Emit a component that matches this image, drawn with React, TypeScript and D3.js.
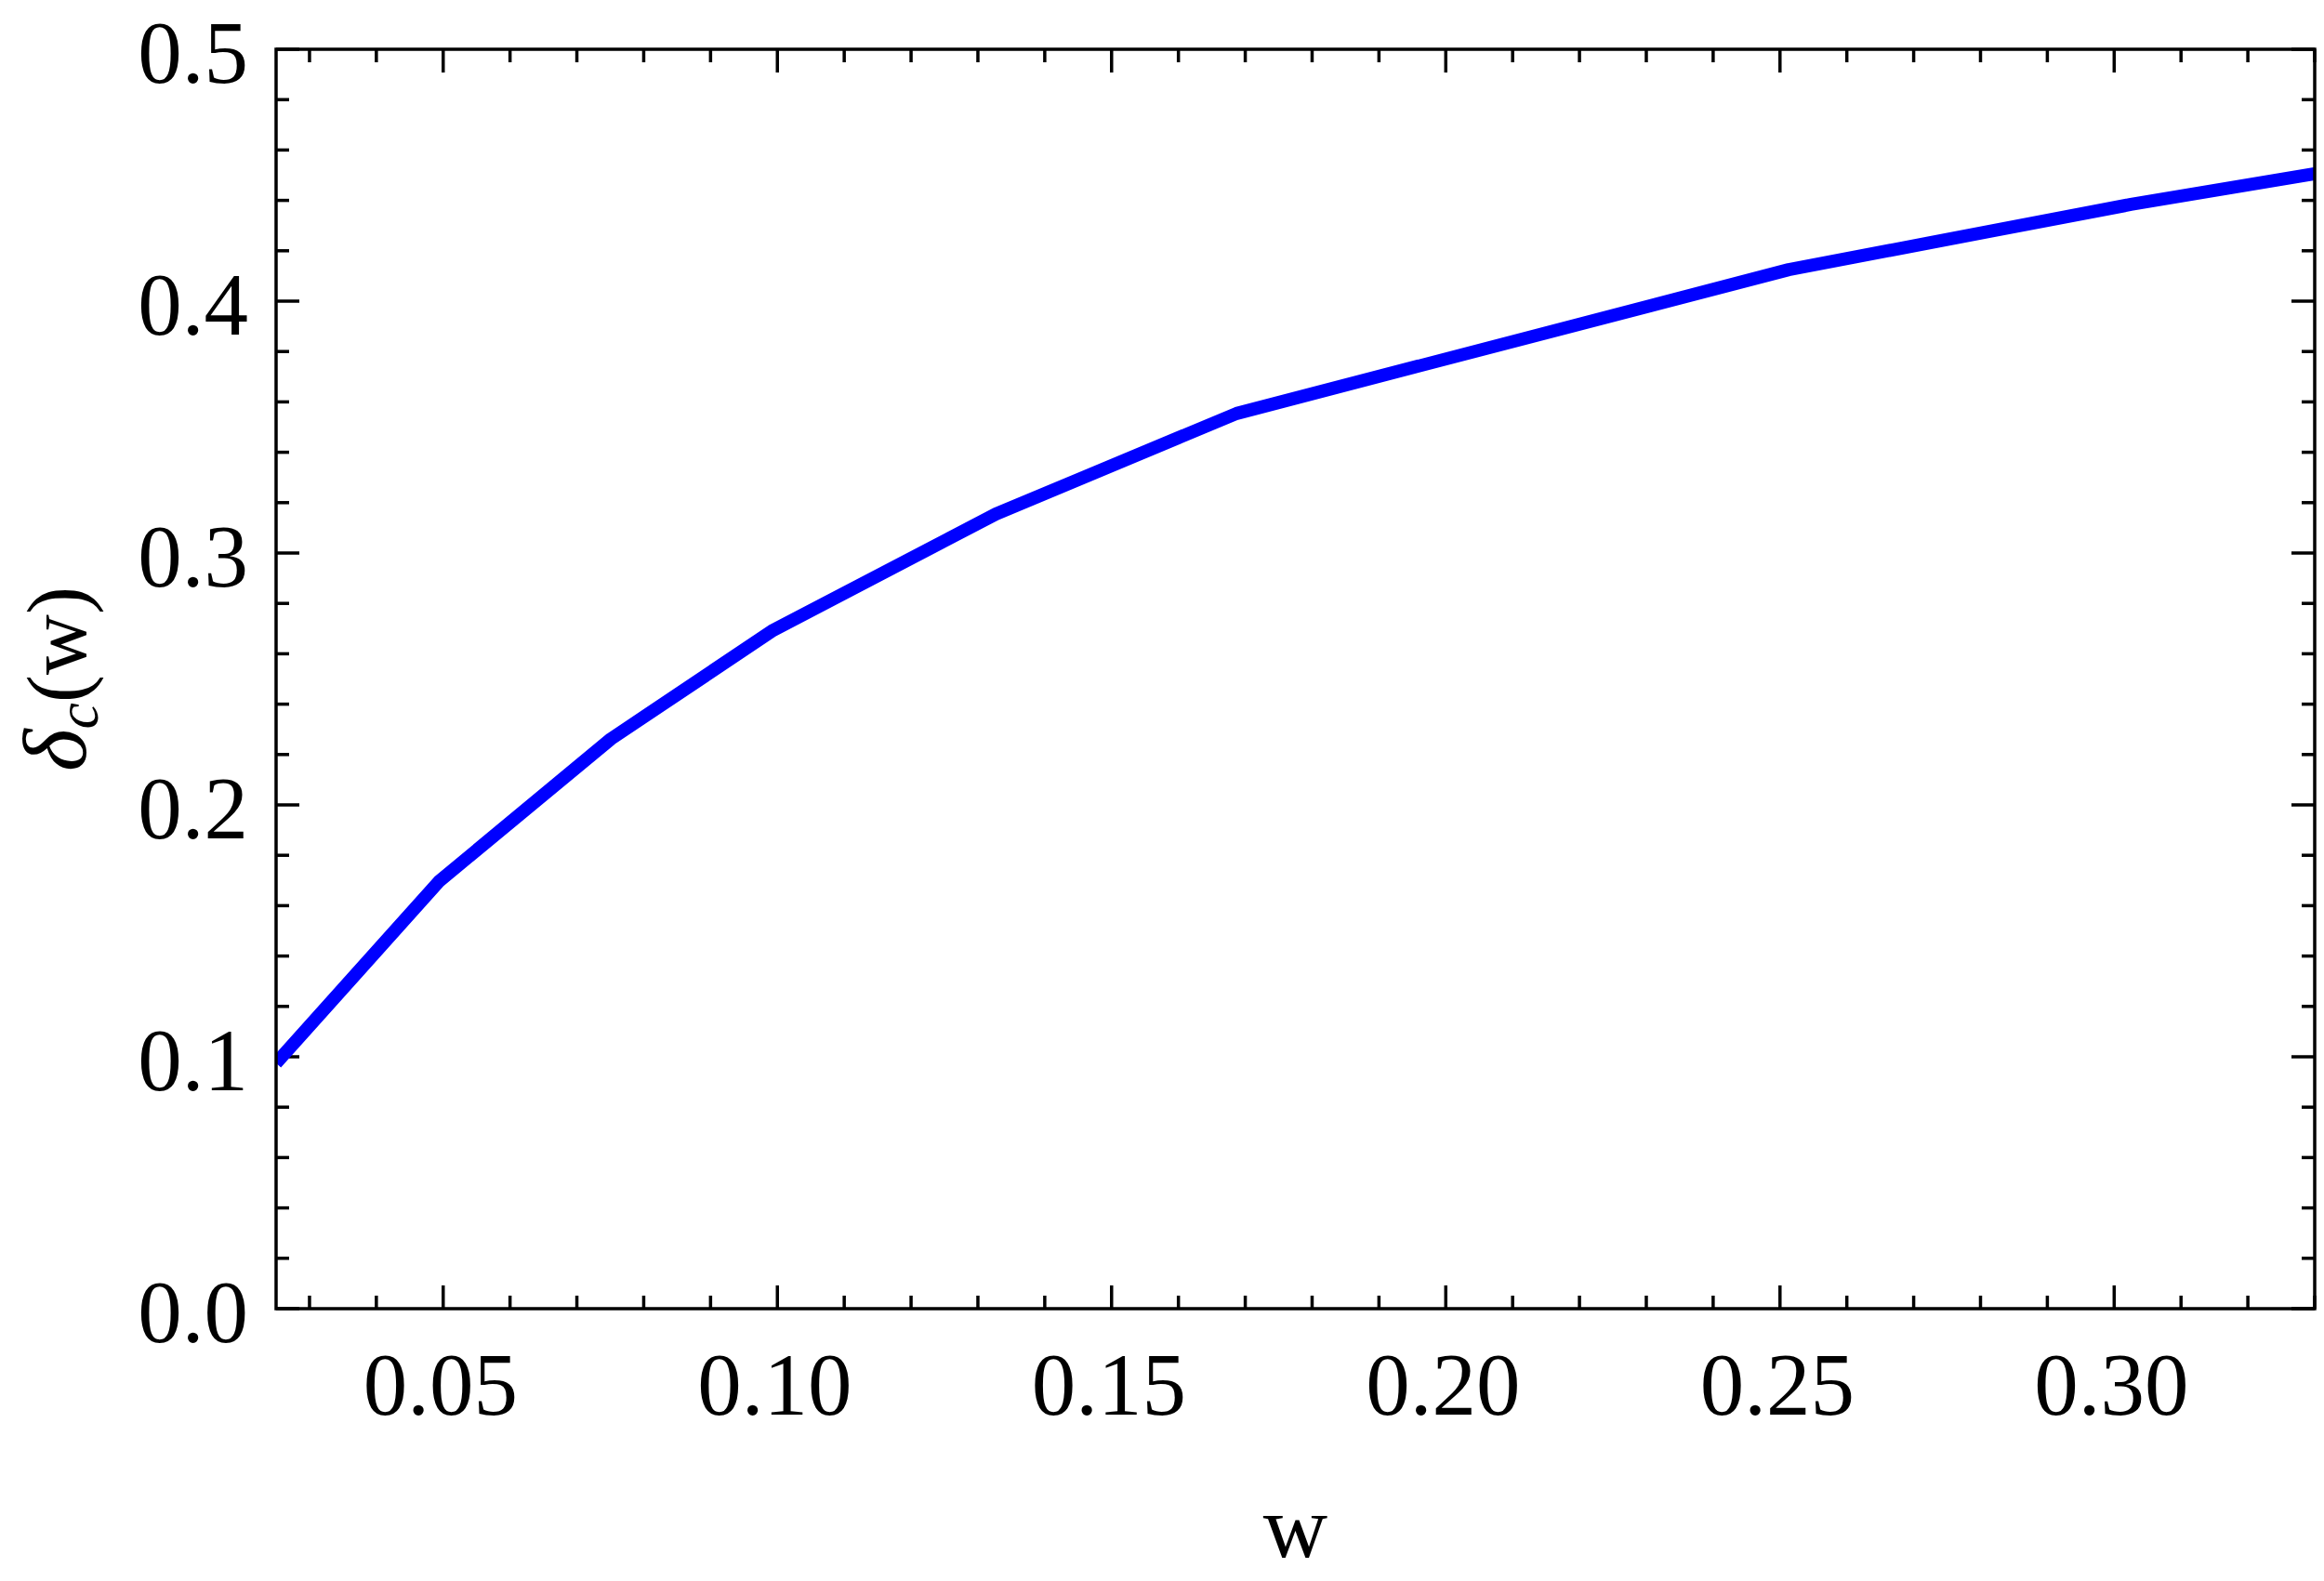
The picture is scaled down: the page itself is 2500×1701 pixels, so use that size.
import React from "react";
import * as d3 from "d3";

const wValues = [0.025, 0.0494, 0.0751, 0.0994, 0.1327, 0.1687, 0.2513, 0.3025, 0.33];
const deltaValues = [0.0975, 0.1697, 0.2262, 0.2694, 0.3155, 0.3554, 0.4125, 0.4384, 0.4506];
const yTickLabels = ["0.0", "0.1", "0.2", "0.3", "0.4", "0.5"];
const xTickLabels = ["0.05", "0.10", "0.15", "0.20", "0.25", "0.30"];

const W = 2500;
const H = 1701;
const L = 297;
const R = 2490;
const T = 53;
const B = 1408;
const FONT = "'Liberation Serif', 'Times New Roman', serif";

export default function App() {
  const x = d3.scaleLinear().domain([0.025, 0.33]).range([L, R]);
  const y = d3.scaleLinear().domain([0, 0.5]).range([B, T]);

  const xMinor = d3.range(3, 34).map((i) => i / 100);
  const yMinor = d3.range(0, 26).map((i) => i / 50);
  const isMajorX = (v: number) => Math.abs(Math.round(v * 100) % 5) === 0;
  const isMajorY = (v: number) => Math.abs(Math.round(v * 50) % 5) === 0;

  const line = d3
    .line<number>()
    .x((_, i) => x(wValues[i]))
    .y((d) => y(d));

  const sw = 3.5;

  return (
    <svg
      width={W}
      height={H}
      style={{ position: "absolute", left: 0, top: 0, background: "#fff" }}
      fontFamily={FONT}
    >
      <defs>
        <clipPath id="plotclip">
          <rect x={L} y={T} width={R - L} height={B - T} />
        </clipPath>
      </defs>
      <rect x={0} y={0} width={W} height={H} fill="#fff" />

      {xMinor.map((v, i) => {
        const len = isMajorX(v) ? 25 : 14;
        const px = x(v);
        return (
          <g key={"xt" + i} stroke="#000" strokeWidth={sw}>
            <line x1={px} x2={px} y1={B} y2={B - len} />
            <line x1={px} x2={px} y1={T} y2={T + len} />
          </g>
        );
      })}
      {yMinor.map((v, i) => {
        const len = isMajorY(v) ? 25 : 14;
        const py = y(v);
        return (
          <g key={"yt" + i} stroke="#000" strokeWidth={sw}>
            <line x1={L} x2={L + len} y1={py} y2={py} />
            <line x1={R} x2={R - len} y1={py} y2={py} />
          </g>
        );
      })}

      <path
        d={line(deltaValues) || ""}
        fill="none"
        stroke="#0000ff"
        strokeWidth={14}
        strokeLinejoin="round"
        clipPath="url(#plotclip)"
      />

      <rect x={L} y={T} width={R - L} height={B - T} fill="none" stroke="#000" strokeWidth={sw} />

      {yTickLabels.map((t, i) => (
        <text
          key={"yl" + i}
          x={L - 30}
          y={y(+t) + 36}
          textAnchor="end"
          fontSize={95}
          fill="#000"
        >
          {t}
        </text>
      ))}
      {xTickLabels.map((t, i) => (
        <text
          key={"xl" + i}
          x={x(+t) - 3}
          y={1522}
          textAnchor="middle"
          fontSize={95}
          fill="#000"
        >
          {t}
        </text>
      ))}

      <text x={(L + R) / 2} y={1675} textAnchor="middle" fontSize={96} fill="#000">
        w
      </text>
      <text
        transform={`translate(92, ${(T + B) / 2}) rotate(-90)`}
        textAnchor="middle"
        fontSize={90}
        fill="#000"
      >
        <tspan fontStyle="italic" fontSize={98}>δ</tspan>
        <tspan fontStyle="italic" fontSize={64} dy={13}>c</tspan>
        <tspan dy={-13}>(w)</tspan>
      </text>
    </svg>
  );
}
